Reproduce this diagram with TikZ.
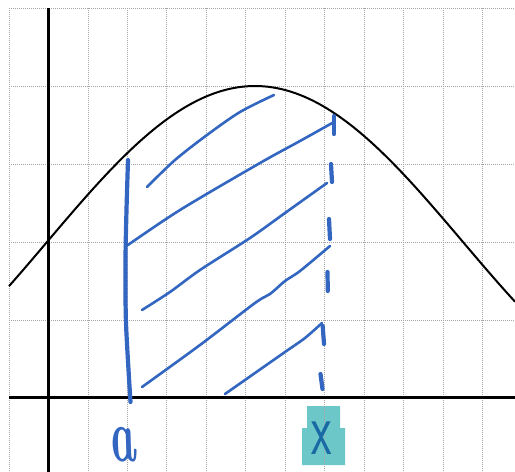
\documentclass[tikz,border=0pt]{standalone}
\usepackage{graphicx}
\definecolor{pen}{RGB}{50,102,192}
\definecolor{hl}{RGB}{108,200,200}
\definecolor{xink}{RGB}{25,105,165}
\definecolor{gridc}{RGB}{165,165,165}
\tikzset{
  gridline/.style={draw=gridc,line width=0.7pt,dash pattern=on 1pt off 1pt},
  axisline/.style={draw=black,line width=3pt},
  hatch/.style={draw=pen,line width=2.6pt,line cap=round,line join=round},
  penthick/.style={draw=pen,line width=4.2pt,line cap=round},
}
\begin{document}
\begin{tikzpicture}[x=1pt,y=-1pt]
\useasboundingbox (0,0) rectangle (515,472);
\fill[white] (0,0) rectangle (515,472);
% highlight behind x
\fill[hl] (307,406) -- (340,406) -- (340,428) -- (345,428) -- (345,465) -- (302,465) -- (302,428) -- (307,428) -- cycle;
% grid
\foreach \k in {0,...,12} {
  \draw[gridline] ({9+39.45*\k},8) -- ({9+39.45*\k},472);
}
\foreach \k in {0,...,5} {
  \draw[gridline] (9,{8+78*\k}) -- (515,{8+78*\k});
}
% axes
\coordinate (yt) at (48.5,8);
\coordinate (yb) at (48.5,472);
\coordinate (xl) at (9,397);
\coordinate (xr) at (515,397);
\draw[axisline] (yt) -- (yb);
\draw[axisline] (xl) -- (xr);
% bell curve
\draw[black,line width=2pt,line join=round] plot[domain=9:515,samples=120,smooth]
  (\x,{398-156*(1+cos((\x-255)/416*180))});
% vertical line at a
\draw[penthick] plot[smooth] coordinates {(128,160) (126.5,210) (125.5,260) (126,323) (130.5,402)};
% dashed line at x
\draw[penthick] (334,116) -- (334,134);
\draw[penthick] (331,164) -- (332,182);
\draw[penthick] (329,219) -- (330,239);
\draw[penthick] (327.5,272) -- (327.8,291);
\draw[penthick] (322.7,326) -- (324,344);
\draw[penthick] (320.5,374) -- (322.5,389);
% hatching
\draw[hatch] plot[smooth] coordinates {(147,187) (175,160) (207,135) (240,112) (274,95)};
\draw[hatch] plot[smooth] coordinates {(125,247) (180,210) (260,163) (300,141) (334,122)};
\draw[hatch] plot[smooth] coordinates {(142,310) (170,292) (200,270) (250,238) (285,213) (327,183)};
\draw[hatch] plot[smooth] coordinates {(142,387) (200,345) (255,303) (270,294) (285,281) (300,271) (330,246)};
\draw[hatch] plot[smooth] coordinates {(225,394) (255,373) (285,352) (305,338) (322,323)};
% labels
\node[text=pen,inner sep=0pt,xslant=-0.18] (la) at (122,445) {\scalebox{0.62}[1.05]{\fontsize{72}{72}\selectfont\bfseries\itshape a}};
\node[text=xink,inner sep=0pt] (lx) at (322,438) {\scalebox{0.62}[1]{\fontsize{76}{76}\selectfont\sffamily x}};
\end{tikzpicture}
\end{document}
